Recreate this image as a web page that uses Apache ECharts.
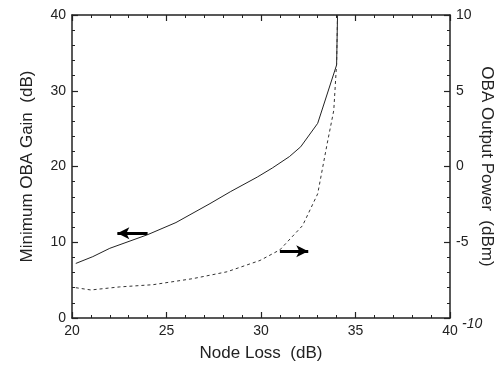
<!DOCTYPE html>
<html>
<head>
<meta charset="utf-8">
<script src="https://cdn.jsdelivr.net/npm/echarts@6/dist/echarts.min.js"></script>
<style>
  html, body { margin: 0; padding: 0; background: #fff; }
  #chart { width: 499px; height: 370px; }
</style>
</head>
<body>
<div id="chart"></div>
<script>
// node loss (dB) vs minimum OBA gain (dB), left axis
const gainLoss = [20.2, 21.1, 22.0, 24.0, 25.5, 27.3, 28.4, 29.8, 30.6, 31.5, 32.1, 33.0, 34.0, 34.05]
const gainVals = [7.2, 8.1, 9.2, 11.0, 12.6, 15.1, 16.7, 18.6, 19.8, 21.3, 22.6, 25.7, 33.4, 40]

// node loss (dB) vs OBA output power (dBm), right axis
const powerLoss = [20.2, 21.0, 22.5, 24.3, 26.4, 28.2, 29.95, 31.0, 32.2, 33.0, 33.5, 33.85, 34.0, 34.05]
const powerVals = [-8.0, -8.15, -7.95, -7.8, -7.4, -6.95, -6.2, -5.5, -3.9, -1.8, 1.5, 3.7, 6.8, 10]

// arrows: [x from, x to, y]
const gainArrow = [24.0, 22.4, 11.2]
const powerArrow = [31.0, 32.5, -5.6]

const ink = '#222'
const font = 'Liberation Sans, Arial, sans-serif'

const pairs = (xs, ys) => xs.map((x, i) => [x, ys[i]])

const chart = echarts.init(document.getElementById('chart'))

const xBase = { type: 'value', min: 20, max: 40, interval: 5 }
const gainBase = { type: 'value', min: 0, max: 40, interval: 10 }
const powerBase = { type: 'value', min: -10, max: 10, interval: 5 }

// main axes: frame line + labels, no ticks
const frame = () => ({
  axisLine: { show: true, onZero: false, lineStyle: { color: ink, width: 1.5 } },
  axisTick: { show: false },
  minorTick: { show: false },
  splitLine: { show: false }
})

// inside ticks don't render, so draw outward ticks on axes shifted into the plot
const tickAxis = (base, position, len, major) => ({
  ...base, position, offset: -len,
  axisLine: { show: false, onZero: false },
  axisLabel: { show: false },
  splitLine: { show: false },
  axisTick: { show: major, inside: false, length: len, lineStyle: { color: ink, width: 1.2 } },
  minorTick: { show: !major, splitNumber: 5, length: len, lineStyle: { color: ink, width: 1 } }
})

const ticksFor = (base, position) => [
  tickAxis(base, position, 6, true),
  tickAxis(base, position, 3, false)
]

chart.setOption({
  animation: false,
  grid: { left: 72, right: 49, top: 15, bottom: 52, outerBoundsMode: 'none', containLabel: false },
  xAxis: [
    {
      ...xBase, position: 'bottom',
      name: 'Node Loss  (dB)', nameLocation: 'middle', nameGap: 27, nameMoveOverlap: false,
      nameTextStyle: { fontFamily: font, fontSize: 17, color: ink },
      axisLabel: { fontFamily: font, fontSize: 14, color: ink, margin: 6 },
      ...frame()
    },
    { ...xBase, position: 'top', axisLabel: { show: false }, ...frame() },
    ...ticksFor(xBase, 'bottom'),
    ...ticksFor(xBase, 'top')
  ],
  yAxis: [
    {
      ...gainBase, position: 'left',
      name: 'Minimum OBA Gain  (dB)', nameLocation: 'middle', nameGap: 36, nameRotate: 90, nameMoveOverlap: false,
      nameTextStyle: { fontFamily: font, fontSize: 17, color: ink },
      axisLabel: { fontFamily: font, fontSize: 14, color: ink, margin: 6 },
      ...frame()
    },
    {
      ...powerBase, position: 'right',
      name: 'OBA Output Power  (dBm)', nameLocation: 'middle', nameGap: 28, nameRotate: -90, nameMoveOverlap: false,
      nameTextStyle: { fontFamily: font, fontSize: 17, color: ink },
      axisLabel: {
        fontFamily: font, fontSize: 14, color: ink, margin: 6,
        formatter: v => v === -10 ? '{i|-10}' : String(v),
        rich: { i: { fontFamily: font, fontSize: 14, fontStyle: 'italic', color: ink, padding: [12, 0, 0, 6] } }
      },
      ...frame()
    },
    ...ticksFor(gainBase, 'left'),
    ...ticksFor(powerBase, 'right')
  ],
  series: [
    {
      type: 'line', xAxisIndex: 0, yAxisIndex: 0,
      data: pairs(gainLoss, gainVals),
      showSymbol: false, smooth: false,
      lineStyle: { color: ink, width: 1 },
      markLine: {
        silent: true, symbolSize: [9, 12],
        lineStyle: { color: '#000', width: 3, type: 'solid' },
        label: { show: false },
        data: [[
          { coord: [gainArrow[0], gainArrow[2]], symbol: 'none' },
          { coord: [gainArrow[1], gainArrow[2]], symbol: 'arrow' }
        ]]
      }
    },
    {
      type: 'line', xAxisIndex: 0, yAxisIndex: 1,
      data: pairs(powerLoss, powerVals),
      showSymbol: false, smooth: false,
      lineStyle: { color: '#333', width: 1, type: [3, 3] },
      markLine: {
        silent: true, symbolSize: [9, 12],
        lineStyle: { color: '#000', width: 3, type: 'solid' },
        label: { show: false },
        data: [[
          { coord: [powerArrow[0], powerArrow[2]], symbol: 'none' },
          { coord: [powerArrow[1], powerArrow[2]], symbol: 'arrow' }
        ]]
      }
    }
  ]
})
</script>
</body>
</html>
